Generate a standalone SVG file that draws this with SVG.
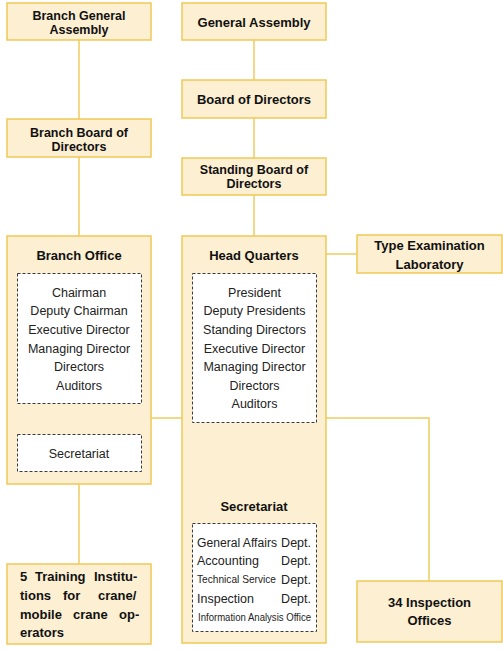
<svg xmlns="http://www.w3.org/2000/svg" width="503" height="650" viewBox="0 0 503 650">
<style>
.box{fill:#fcefd2;stroke:#f0c955;stroke-width:1.5}
.dash{fill:#ffffff;stroke:#3a3a3a;stroke-width:1;stroke-dasharray:3 2}
.con{fill:none;stroke:#f0cb60;stroke-width:1.5}
.h{font-family:"Liberation Sans",Arial,sans-serif;font-weight:bold;font-size:13px;fill:#111;text-anchor:middle}
.h2{font-family:"Liberation Sans",Arial,sans-serif;font-weight:bold;font-size:12.5px;fill:#111;text-anchor:middle}
.t{font-family:"Liberation Sans",Arial,sans-serif;font-size:12.5px;fill:#222;text-anchor:middle}
.d{font-family:"Liberation Sans",Arial,sans-serif;font-size:12.5px;fill:#222}
.ds{font-family:"Liberation Sans",Arial,sans-serif;font-size:10.5px;fill:#222}
.j{font-family:"Liberation Sans",Arial,sans-serif;font-weight:bold;font-size:13px;fill:#111}
</style>
<rect width="503" height="650" fill="#ffffff"/>
<g id="connectors">
<line class="con" x1="79" y1="40" x2="79" y2="119"/>
<line class="con" x1="79" y1="157" x2="79" y2="236"/>
<line class="con" x1="79" y1="484" x2="79" y2="564"/>
<line class="con" x1="254" y1="40" x2="254" y2="80"/>
<line class="con" x1="254" y1="118" x2="254" y2="158"/>
<line class="con" x1="254" y1="195" x2="254" y2="236"/>
<line class="con" x1="326" y1="254" x2="357" y2="254"/>
<line class="con" x1="151" y1="418" x2="182" y2="418"/>
<polyline class="con" points="326,418 429,418 429,581"/>
</g>
<g id="branch-general-assembly">
<rect class="box" x="7" y="3" width="144" height="37"/>
<text class="h2" x="79" y="19.5">Branch General</text>
<text class="h2" x="79" y="33.5">Assembly</text>
</g>
<g id="general-assembly">
<rect class="box" x="182" y="3" width="144" height="37"/>
<text class="h" x="254" y="26.5">General Assembly</text>
</g>
<g id="board-of-directors">
<rect class="box" x="182" y="80" width="144" height="38"/>
<text class="h" x="254" y="104">Board of Directors</text>
</g>
<g id="branch-board-of-directors">
<rect class="box" x="7" y="119" width="144" height="38"/>
<text class="h2" x="79" y="136.5">Branch Board of</text>
<text class="h2" x="79" y="150.5">Directors</text>
</g>
<g id="standing-board-of-directors">
<rect class="box" x="182" y="158" width="144" height="37"/>
<text class="h2" x="254" y="174">Standing Board of</text>
<text class="h2" x="254" y="188">Directors</text>
</g>
<g id="branch-office">
<rect class="box" x="7" y="236" width="144" height="248"/>
<text class="h" x="79" y="260">Branch Office</text>
<rect class="dash" x="17.5" y="273.5" width="124" height="130"/>
<text class="t" x="79" y="296.8">Chairman</text>
<text class="t" x="79" y="315.4">Deputy Chairman</text>
<text class="t" x="79" y="333.9">Executive Director</text>
<text class="t" x="79" y="352.5">Managing Director</text>
<text class="t" x="79" y="371.1">Directors</text>
<text class="t" x="79" y="389.6">Auditors</text>
<rect class="dash" x="17.5" y="434.5" width="124" height="37"/>
<text class="t" x="79" y="457.5">Secretariat</text>
</g>
<g id="head-quarters">
<rect class="box" x="182" y="236" width="144" height="407"/>
<text class="h" x="254" y="260">Head Quarters</text>
<rect class="dash" x="192.5" y="273.5" width="124" height="149"/>
<text class="t" x="254.5" y="296.8">President</text>
<text class="t" x="254.5" y="315.4">Deputy Presidents</text>
<text class="t" x="254.5" y="333.9">Standing Directors</text>
<text class="t" x="254.5" y="352.5">Executive Director</text>
<text class="t" x="254.5" y="371.1">Managing Director</text>
<text class="t" x="254.5" y="389.6">Directors</text>
<text class="t" x="254.5" y="408.2">Auditors</text>
<text class="h" x="254" y="511">Secretariat</text>
<rect class="dash" x="192.5" y="523.5" width="124" height="108"/>
<text class="d" x="197" y="546.8" textLength="80" lengthAdjust="spacingAndGlyphs">General Affairs</text>
<text class="d" x="311" y="546.8" text-anchor="end">Dept.</text>
<text class="d" x="197" y="565.2">Accounting</text>
<text class="d" x="311" y="565.2" text-anchor="end">Dept.</text>
<text class="ds" x="197" y="583.3" textLength="79" lengthAdjust="spacingAndGlyphs">Technical Service</text>
<text class="d" x="311" y="583.8" text-anchor="end">Dept.</text>
<text class="d" x="197" y="602.8">Inspection</text>
<text class="d" x="311" y="602.8" text-anchor="end">Dept.</text>
<text class="ds" x="198" y="620.7" textLength="113" lengthAdjust="spacingAndGlyphs">Information Analysis Office</text>
</g>
<g id="type-examination-laboratory">
<rect class="box" x="357" y="235" width="145" height="38"/>
<text class="h" x="429.5" y="250">Type Examination</text>
<text class="h" x="429.5" y="268.5">Laboratory</text>
</g>
<g id="training-institutions">
<rect class="box" x="7" y="564" width="144" height="80"/>
<text class="j" y="581"><tspan x="20">5</tspan><tspan x="35">Training</tspan><tspan x="94">Institu-</tspan></text>
<text class="j" y="600"><tspan x="20">tions</tspan><tspan x="63">for</tspan><tspan x="98">crane/</tspan></text>
<text class="j" y="618.5"><tspan x="20">mobile</tspan><tspan x="73">crane</tspan><tspan x="119">op-</tspan></text>
<text class="j" x="20" y="637">erators</text>
</g>
<g id="inspection-offices">
<rect class="box" x="357" y="581" width="145" height="61"/>
<text class="h" x="429.5" y="607">34 Inspection</text>
<text class="h" x="429.5" y="625">Offices</text>
</g>
</svg>
